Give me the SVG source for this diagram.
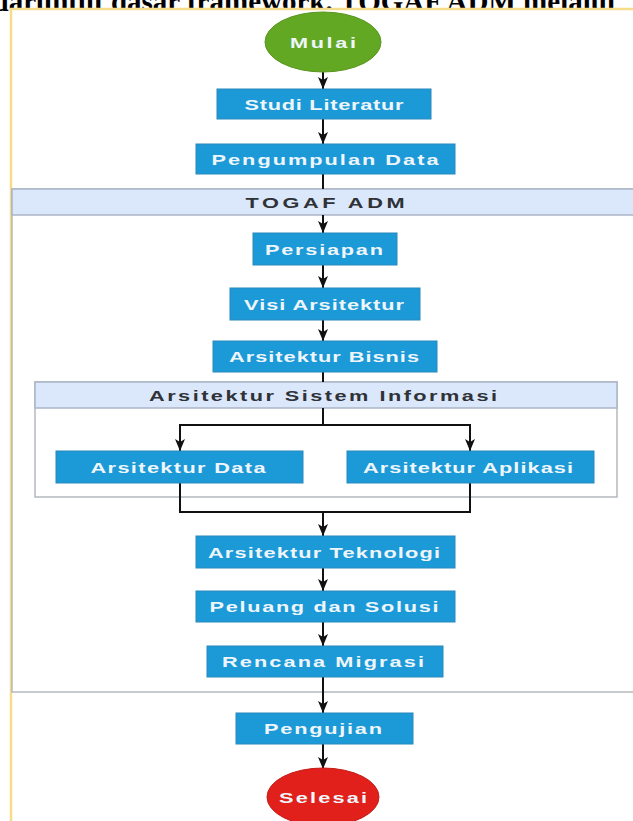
<svg xmlns="http://www.w3.org/2000/svg" width="633" height="821" viewBox="0 0 633 821">
  <style>
    .frame { fill: #ffffff; stroke: #f6dc8a; stroke-width: 2.5; }
    .group { fill: #ffffff; stroke: #b4b8bd; stroke-width: 1.5; }
    .hdr { fill: #dbe7fa; stroke: #aab6c6; stroke-width: 1.5; }
    .hdr-t { font-family: "Liberation Sans", Arial, sans-serif; font-weight: bold; font-size: 15px; fill: #2f3236; text-anchor: middle; }
    .box { fill: #1c99d7; stroke: #2a88bd; stroke-width: 1; }
    .lbl { font-family: "Liberation Sans", Arial, sans-serif; font-weight: bold; font-size: 15px; fill: #eef6fb; text-anchor: middle; }
    .start { fill: #62a823; stroke: #5a9620; stroke-width: 1; }
    .end { fill: #e1201b; stroke: #c41a16; stroke-width: 1; }
    .wire { fill: none; stroke: #111111; stroke-width: 2; }
    .caption { font-family: "Liberation Serif", "Times New Roman", serif; font-weight: bold; font-size: 29px; fill: #000000; }
  </style>
  <defs>
    <marker id="arrow" viewBox="0 0 12 10" refX="12" refY="5" markerWidth="6" markerHeight="5" markerUnits="strokeWidth" orient="auto">
      <path d="M0,0 L12,5 L0,10 L3,5 z" fill="#111111"/>
    </marker>
  </defs>

  <rect width="633" height="821" fill="#ffffff"/>

  <!-- caption line above the figure, clipped by the page edge -->
  <text class="caption" x="-22" y="11">adaruntut dasar framework. TOGAF ADM melalui</text>

  <!-- outer frame -->
  <rect class="frame" x="11" y="9" width="640" height="830"/>

  <!-- TOGAF ADM container -->
  <g id="togaf-adm">
    <rect class="group" x="12" y="189" width="640" height="503"/>
    <rect class="hdr" x="12" y="189" width="640" height="26"/>
    <text class="hdr-t" transform="translate(325,207.5) scale(1.45,1)" textLength="109.7" lengthAdjust="spacing">TOGAF ADM</text>
  </g>

  <!-- Arsitektur Sistem Informasi container -->
  <g id="arsitektur-sistem-informasi">
    <rect class="group" x="35" y="382" width="582" height="115"/>
    <rect class="hdr" x="35" y="382" width="582" height="26"/>
    <text class="hdr-t" transform="translate(323,400.5) scale(1.45,1)" textLength="240" lengthAdjust="spacing">Arsitektur Sistem Informasi</text>
  </g>

  <!-- connectors -->
  <g id="connectors">
    <path class="wire" marker-end="url(#arrow)" d="M323,72 V89"/>
    <path class="wire" marker-end="url(#arrow)" d="M323,119 V144"/>
    <path class="wire" d="M323,174 V189"/>
    <path class="wire" marker-end="url(#arrow)" d="M323,215 V233"/>
    <path class="wire" marker-end="url(#arrow)" d="M323,265 V288"/>
    <path class="wire" marker-end="url(#arrow)" d="M323,320 V341"/>
    <path class="wire" d="M323,372 V382"/>
    <path class="wire" d="M323,408 V425"/>
    <path class="wire" marker-end="url(#arrow)" d="M323,425 H180 V451"/>
    <path class="wire" marker-end="url(#arrow)" d="M323,425 H470 V451"/>
    <path class="wire" d="M180,483 V512 H470 V483"/>
    <path class="wire" marker-end="url(#arrow)" d="M323,512 V536"/>
    <path class="wire" marker-end="url(#arrow)" d="M323,568 V591"/>
    <path class="wire" marker-end="url(#arrow)" d="M323,622 V646"/>
    <path class="wire" marker-end="url(#arrow)" d="M323,677 V713"/>
    <path class="wire" marker-end="url(#arrow)" d="M323,743 V769"/>
  </g>

  <g id="mulai">
    <ellipse class="start" cx="323" cy="42" rx="58" ry="30"/>
    <text class="lbl" transform="translate(323,47.5) scale(1.45,1)" textLength="45.5" lengthAdjust="spacing">Mulai</text>
  </g>

  <g id="studi-literatur">
    <rect class="box" x="217" y="89" width="214" height="30"/>
    <text class="lbl" transform="translate(324,109.5) scale(1.45,1)" textLength="109.7" lengthAdjust="spacing">Studi Literatur</text>
  </g>

  <g id="pengumpulan-data">
    <rect class="box" x="196" y="144" width="259" height="30"/>
    <text class="lbl" transform="translate(325,164.5) scale(1.45,1)" textLength="156.6" lengthAdjust="spacing">Pengumpulan Data</text>
  </g>

  <g id="persiapan">
    <rect class="box" x="253" y="233" width="144" height="32"/>
    <text class="lbl" transform="translate(324,254.5) scale(1.45,1)" textLength="81.4" lengthAdjust="spacing">Persiapan</text>
  </g>

  <g id="visi-arsitektur">
    <rect class="box" x="230" y="288" width="190" height="32"/>
    <text class="lbl" transform="translate(324,309.5) scale(1.45,1)" textLength="110.3" lengthAdjust="spacing">Visi Arsitektur</text>
  </g>

  <g id="arsitektur-bisnis">
    <rect class="box" x="213" y="341" width="224" height="31"/>
    <text class="lbl" transform="translate(324,362) scale(1.45,1)" textLength="131" lengthAdjust="spacing">Arsitektur Bisnis</text>
  </g>

  <g id="arsitektur-data">
    <rect class="box" x="56" y="451" width="247" height="32"/>
    <text class="lbl" transform="translate(178,472.5) scale(1.45,1)" textLength="120.7" lengthAdjust="spacing">Arsitektur Data</text>
  </g>

  <g id="arsitektur-aplikasi">
    <rect class="box" x="347" y="451" width="247" height="32"/>
    <text class="lbl" transform="translate(468,472.5) scale(1.45,1)" textLength="144.8" lengthAdjust="spacing">Arsitektur Aplikasi</text>
  </g>

  <g id="arsitektur-teknologi">
    <rect class="box" x="196" y="536" width="259" height="32"/>
    <text class="lbl" transform="translate(324,557.5) scale(1.45,1)" textLength="160" lengthAdjust="spacing">Arsitektur Teknologi</text>
  </g>

  <g id="peluang-dan-solusi">
    <rect class="box" x="196" y="591" width="259" height="31"/>
    <text class="lbl" transform="translate(324,612) scale(1.45,1)" textLength="157.9" lengthAdjust="spacing">Peluang dan Solusi</text>
  </g>

  <g id="rencana-migrasi">
    <rect class="box" x="207" y="646" width="236" height="31"/>
    <text class="lbl" transform="translate(323,667) scale(1.45,1)" textLength="139.3" lengthAdjust="spacing">Rencana Migrasi</text>
  </g>

  <g id="pengujian">
    <rect class="box" x="236" y="713" width="177" height="31"/>
    <text class="lbl" transform="translate(323,734) scale(1.45,1)" textLength="81.4" lengthAdjust="spacing">Pengujian</text>
  </g>

  <g id="selesai">
    <ellipse class="end" cx="323" cy="797" rx="56" ry="29"/>
    <text class="lbl" transform="translate(323,802.5) scale(1.45,1)" textLength="60.7" lengthAdjust="spacing">Selesai</text>
  </g>
</svg>
